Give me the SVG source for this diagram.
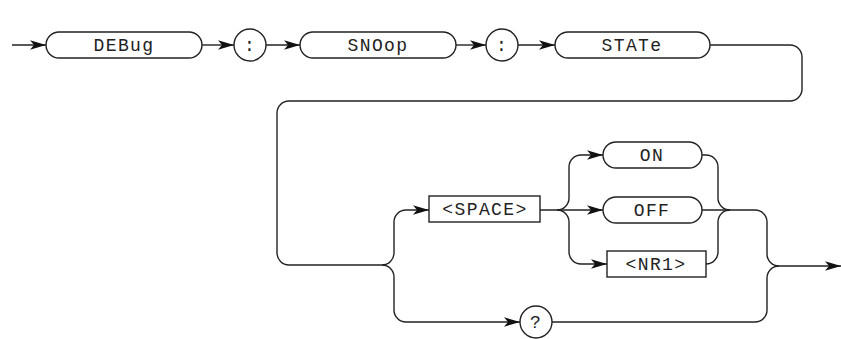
<svg xmlns="http://www.w3.org/2000/svg" width="841" height="339" viewBox="0 0 841 339">
<style>
.n{fill:#fff;stroke:#222;stroke-width:1.4}
.c{fill:none;stroke:#222;stroke-width:1.4}
.t{font-family:"Liberation Mono","DejaVu Sans Mono",monospace;font-size:18px;letter-spacing:1.4px;fill:#222;text-anchor:middle}
</style>
<defs>
<marker id="a" markerWidth="18" markerHeight="12" refX="16" refY="6" orient="auto" markerUnits="userSpaceOnUse">
<path d="M0,1.3 L16,6 L0,10.7 L4,6 Z" fill="#111"/>
</marker>
</defs>
<rect width="841" height="339" fill="#fff"/>
<g id="connectors" class="c">
<path d="M12,45 H46" marker-end="url(#a)"/>
<path d="M202,45 H234" marker-end="url(#a)"/>
<path d="M266,45 H300" marker-end="url(#a)"/>
<path d="M456,45 H486" marker-end="url(#a)"/>
<path d="M518,45 H555" marker-end="url(#a)"/>
<path d="M710,45 H790 A12,12 0 0 1 802,57 V89 A12,12 0 0 1 790,101 H289 A12,12 0 0 0 277,113 V253 A12,12 0 0 0 289,265 H382"/>
<path d="M382,265 A12,12 0 0 0 394,253 V222 A12,12 0 0 1 406,210 H429" marker-end="url(#a)"/>
<path d="M382,265 A12,12 0 0 1 394,277 V310 A12,12 0 0 0 406,322 H520" marker-end="url(#a)"/>
<path d="M540,210 H603" marker-end="url(#a)"/>
<path d="M557,210 A12,12 0 0 0 569,198 V167 A12,12 0 0 1 581,155 H603" marker-end="url(#a)"/>
<path d="M557,210 A12,12 0 0 1 569,222 V252 A12,12 0 0 0 581,264 H607" marker-end="url(#a)"/>
<path d="M702,155 H706 A12,12 0 0 1 718,167 V198 A12,12 0 0 0 730,210"/>
<path d="M706,264 A12,12 0 0 0 718,252 V222 A12,12 0 0 1 730,210"/>
<path d="M702,210 H755 A12,12 0 0 1 767,222 V254 A12,12 0 0 0 779,266 H841" marker-end="url(#a)"/>
<path d="M552,322 H755 A12,12 0 0 0 767,310 V278 A12,12 0 0 1 779,266"/>
</g>
<g id="n-debug"><rect class="n" x="46" y="32" width="156" height="26" rx="13"/><text class="t" x="124" y="51">DEBug</text></g>
<g id="n-colon1"><circle class="n" cx="250" cy="45" r="16"/><text class="t" x="250" y="51">:</text></g>
<g id="n-snoop"><rect class="n" x="300" y="32" width="156" height="26" rx="13"/><text class="t" x="378" y="51">SNOop</text></g>
<g id="n-colon2"><circle class="n" cx="502" cy="45" r="16"/><text class="t" x="502" y="51">:</text></g>
<g id="n-state"><rect class="n" x="555" y="32" width="155" height="26" rx="13"/><text class="t" x="632" y="51">STATe</text></g>
<g id="n-space"><rect class="n" x="429" y="196" width="111" height="26"/><text class="t" x="485" y="215">&lt;SPACE&gt;</text></g>
<g id="n-on"><rect class="n" x="603" y="142" width="99" height="26" rx="13"/><text class="t" x="652" y="161">ON</text></g>
<g id="n-off"><rect class="n" x="603" y="197" width="99" height="26" rx="13"/><text class="t" x="652" y="216">OFF</text></g>
<g id="n-nr1"><rect class="n" x="607" y="251" width="99" height="26"/><text class="t" x="656" y="270">&lt;NR1&gt;</text></g>
<g id="n-query"><circle class="n" cx="536" cy="322" r="16"/><text class="t" x="536" y="328">?</text></g>
</svg>
